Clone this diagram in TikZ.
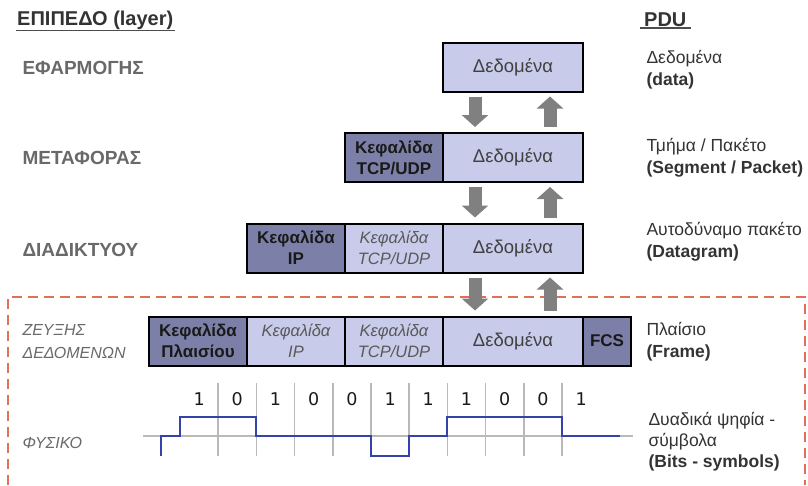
\documentclass[tikz,border=0pt]{standalone}
\usepackage{fontspec}
\setmainfont{Liberation Sans}
\newfontfamily\digitfont{DejaVu Sans}
\usetikzlibrary{arrows.meta,positioning}

\definecolor{hdrfill}{RGB}{124,128,168}
\definecolor{payfill}{RGB}{200,204,234}
\definecolor{labgray}{RGB}{105,105,105}
\definecolor{arrgray}{RGB}{128,128,128}
\definecolor{dashred}{RGB}{226,110,90}
\definecolor{sigblue}{RGB}{52,66,170}
\definecolor{gridgray}{RGB}{185,185,185}

\begin{document}
\begin{tikzpicture}[x=1pt,y=-1pt,
    box/.style={draw=black,line width=2pt,minimum height=49pt,inner sep=0pt,outer sep=0pt,align=center},
    hdr/.style={box,fill=hdrfill,font=\fontsize{17}{21}\selectfont\bfseries,text=black!90},
    pay/.style={box,fill=payfill,font=\fontsize{16.5}{21}\selectfont\itshape,text=black!65},
    dat/.style={box,fill=payfill,minimum width=140pt,font=\fontsize{18.5}{21}\selectfont,text=black!75},
    layer/.style={anchor=west,font=\fontsize{19}{21}\selectfont\bfseries,text=labgray},
    sublayer/.style={anchor=west,align=left,font=\fontsize{16}{23}\selectfont\itshape,text=labgray},
    pdu/.style={anchor=west,align=left,font=\fontsize{17.5}{22}\selectfont,text=black!80},
    blkarrow/.style={arrgray,line width=13pt,-{Triangle[length=12pt,width=26pt]}},
    bit/.style={font=\digitfont\fontsize{17.5}{19}\selectfont,text=black!90}]
    \useasboundingbox (0,0) rectangle (808,485);

    % Headings
    \node[anchor=west,inner sep=1pt,font=\fontsize{20}{22}\selectfont\bfseries,text=black!80] (head) at (16,20) {ΕΠΙΠΕΔΟ (layer)};
    \draw[line width=1.5pt,black!70] (head.south west) -- (head.south east);
    \node[anchor=west,inner sep=1pt,font=\fontsize{20}{22}\selectfont\bfseries,text=black!80] (pduhead) at (643,20) {PDU};
    \draw[line width=1.5pt,black!70] ([xshift=-3pt]pduhead.south west) -- ([xshift=3pt]pduhead.south east);

    % Layer names
    \node[layer] (app) at (19,68) {ΕΦΑΡΜΟΓΗΣ};
    \node[layer] (trn) at (19,158) {ΜΕΤΑΦΟΡΑΣ};
    \node[layer] (net) at (19,250) {ΔΙΑΔΙΚΤΥΟΥ};
    \node[sublayer] (lnk) at (19,342) {ΖΕΥΞΗΣ\\ΔΕΔΟΜΕΝΩΝ};
    \node[sublayer] (phy) at (19,443) {ΦΥΣΙΚΟ};

    % Data link zone
    \draw[dashred,line width=2pt,dash pattern=on 10pt off 6pt] (8,485) -- (8,297) -- (805,297) -- (805,485);

    % Application
    \node[dat] (d1) at (513,67) {Δεδομένα};

    % Transport
    \node[dat] (d2) at (513,157.5) {Δεδομένα};
    \node[hdr,minimum width=98pt,left=0pt of d2] (t2) {Κεφαλίδα\\TCP/UDP};

    % Network
    \node[dat] (d3) at (513,248) {Δεδομένα};
    \node[pay,minimum width=98pt,left=0pt of d3] (t3) {Κεφαλίδα\\TCP/UDP};
    \node[hdr,minimum width=98pt,left=0pt of t3] (i3) {Κεφαλίδα\\IP};

    % Data link
    \node[dat] (d4) at (513,341) {Δεδομένα};
    \node[pay,minimum width=98pt,left=0pt of d4] (t4) {Κεφαλίδα\\TCP/UDP};
    \node[pay,minimum width=98pt,left=0pt of t4] (i4) {Κεφαλίδα\\IP};
    \node[hdr,minimum width=98pt,left=0pt of i4] (f4) {Κεφαλίδα\\Πλαισίου};
    \node[hdr,minimum width=48pt,right=0pt of d4] (fcs) {FCS};

    % Encapsulation arrows
    \foreach \a/\b in {d1/d2,d2/d3,d3/d4}{
        \draw[blkarrow] ([shift={(-38,5)}]\a.south) -- ([shift={(-38,-6)}]\b.north);
        \draw[blkarrow] ([shift={(37,-6)}]\b.north) -- ([shift={(37,5)}]\a.south);
    }

    % Physical: bits and signal
    \foreach \k in {1,...,10}
        \draw[gridgray,line width=1.5pt] ({180+38.2*\k},383) -- ({180+38.2*\k},456);
    \draw[gridgray,line width=1.5pt] (143,436) -- (633,436);
    \foreach \b [count=\k from 0] in {1,0,1,0,0,1,1,1,0,0,1}
        \node[bit] (b\k) at ({180+38.2*(\k+0.5)},399) {\b};
    \draw[sigblue,line width=2pt] (161,456) |- (180,436) |- (256.4,417) |- (371,436)
        |- (409.2,456) |- (447.4,436) |- (562,417) |- (620,436);

    % PDU names
    \node[pdu] (p1) at (643,70) {Δεδομένα\\\textbf{(data)}};
    \node[pdu] (p2) at (643,158) {Τμήμα / Πακέτο\\\textbf{(Segment / Packet)}};
    \node[pdu] (p3) at (643,242) {Αυτοδύναμο πακέτο\\\textbf{(Datagram)}};
    \node[pdu] (p4) at (643,342) {Πλαίσιο\\\textbf{(Frame)}};
    \node[pdu,font=\fontsize{17.5}{21}\selectfont] (p5) at (645,442) {Δυαδικά ψηφία -\\σύμβολα\\\textbf{(Bits - symbols)}};
\end{tikzpicture}
\end{document}
